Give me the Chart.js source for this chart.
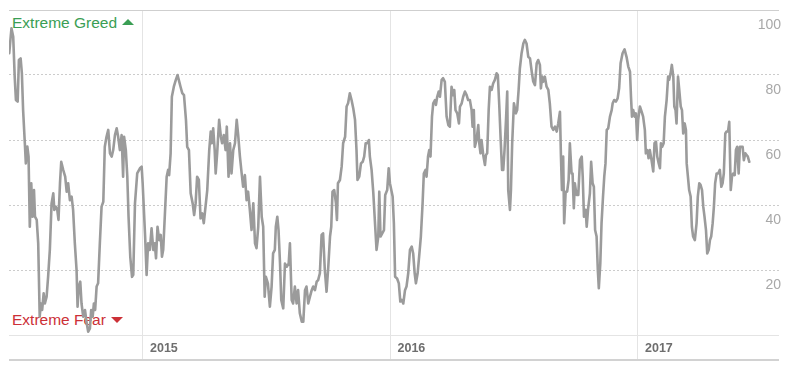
<!DOCTYPE html>
<html>
<head>
<meta charset="utf-8">
<title>Fear &amp; Greed</title>
<script src="https://cdn.jsdelivr.net/npm/chart.js@4.4.1/dist/chart.umd.min.js"></script>
<style>
  body { margin: 0; background: #fff; }
  #wrap { position: relative; width: 793px; height: 373px; }
  #wrap canvas { position: absolute; left: 0; top: 0; z-index: 1; }
  .zone { position: absolute; left: 12px; font-family: "Liberation Sans", Arial, sans-serif; font-size: 15.5px; line-height: 18px; white-space: nowrap; }
  .greed { top: 14px; color: #3a9e54; }
  .fear { top: 311px; color: #cc3037; }
  .tri { display: inline-block; width: 0; height: 0; margin-left: 5px; vertical-align: middle; border-left: 6px solid transparent; border-right: 6px solid transparent; }
  .greed .tri { border-bottom: 6px solid #3a9e54; margin-top: -3px; }
  .fear .tri { border-top: 6px solid #cc3037; margin-top: -2px; }
</style>
</head>
<body>
<div id="wrap">
  <div class="zone greed">Extreme Greed<span class="tri"></span></div>
  <div class="zone fear">Extreme Fear<span class="tri"></span></div>
  <canvas id="chart" width="793" height="373"></canvas>
</div>
<script>
// fractional years
const dates = [
  2014.460, 2014.469, 2014.476, 2014.482, 2014.487, 2014.494, 2014.499, 2014.506, 2014.511, 2014.516,
  2014.523, 2014.527, 2014.533, 2014.538, 2014.543, 2014.549, 2014.554, 2014.560, 2014.564, 2014.571,
  2014.577, 2014.583, 2014.588, 2014.593, 2014.599, 2014.604, 2014.611, 2014.617, 2014.624, 2014.631,
  2014.638, 2014.642, 2014.648, 2014.654, 2014.659, 2014.665, 2014.670, 2014.678, 2014.686, 2014.692,
  2014.698, 2014.705, 2014.712, 2014.718, 2014.725, 2014.732, 2014.736, 2014.741, 2014.747, 2014.752,
  2014.759, 2014.766, 2014.773, 2014.779, 2014.786, 2014.791, 2014.797, 2014.802, 2014.807, 2014.813,
  2014.819, 2014.826, 2014.833, 2014.840, 2014.846, 2014.853, 2014.860, 2014.867, 2014.874, 2014.880,
  2014.887, 2014.894, 2014.900, 2014.907, 2014.914, 2014.920, 2014.924, 2014.931, 2014.937, 2014.942,
  2014.949, 2014.956, 2014.961, 2014.968, 2014.977, 2014.988, 2014.995, 2014.999,
  2015.004, 2015.009, 2015.015, 2015.021, 2015.028, 2015.035, 2015.042, 2015.048, 2015.053, 2015.059,
  2015.066, 2015.072, 2015.077, 2015.082, 2015.089, 2015.096, 2015.102, 2015.106, 2015.112, 2015.117,
  2015.125, 2015.133, 2015.140, 2015.147, 2015.152, 2015.159, 2015.166, 2015.174, 2015.179, 2015.186,
  2015.193, 2015.201, 2015.207, 2015.213, 2015.219, 2015.226, 2015.233, 2015.240, 2015.246, 2015.253,
  2015.260, 2015.268, 2015.274, 2015.279, 2015.284, 2015.290, 2015.294, 2015.300, 2015.308, 2015.315,
  2015.320, 2015.327, 2015.334, 2015.339, 2015.346, 2015.352, 2015.358, 2015.365, 2015.372, 2015.379,
  2015.385, 2015.392, 2015.399, 2015.405, 2015.412, 2015.419, 2015.425, 2015.432, 2015.439, 2015.446,
  2015.453, 2015.459, 2015.466, 2015.473, 2015.480, 2015.486, 2015.492, 2015.497, 2015.505, 2015.513,
  2015.520, 2015.526, 2015.533, 2015.537, 2015.543, 2015.548, 2015.554, 2015.559, 2015.567, 2015.574,
  2015.581, 2015.589, 2015.594, 2015.601, 2015.607, 2015.614, 2015.621, 2015.627, 2015.634, 2015.642,
  2015.648, 2015.655, 2015.661, 2015.668, 2015.675, 2015.682, 2015.688, 2015.695, 2015.702, 2015.708,
  2015.715, 2015.722, 2015.728, 2015.735, 2015.742, 2015.749, 2015.756, 2015.761, 2015.766, 2015.773,
  2015.780, 2015.784, 2015.788, 2015.796, 2015.803, 2015.809, 2015.817, 2015.823, 2015.829, 2015.836,
  2015.843, 2015.850, 2015.857, 2015.863, 2015.867, 2015.874, 2015.881, 2015.888, 2015.894, 2015.900,
  2015.906, 2015.913, 2015.917, 2015.924, 2015.931, 2015.937, 2015.944, 2015.951, 2015.955, 2015.960,
  2015.967, 2015.974, 2015.979, 2015.987, 2015.993, 2015.998,
  2016.009, 2016.014, 2016.019, 2016.027, 2016.034, 2016.040, 2016.046, 2016.052, 2016.059, 2016.065,
  2016.072, 2016.079, 2016.086, 2016.092, 2016.098, 2016.103, 2016.110, 2016.116, 2016.123, 2016.130,
  2016.135, 2016.142, 2016.146, 2016.152, 2016.157, 2016.162, 2016.168, 2016.173, 2016.180, 2016.184,
  2016.189, 2016.195, 2016.200, 2016.207, 2016.213, 2016.220, 2016.227, 2016.234, 2016.240, 2016.247,
  2016.254, 2016.258, 2016.263, 2016.270, 2016.277, 2016.281, 2016.288, 2016.294, 2016.301, 2016.308,
  2016.314, 2016.321, 2016.328, 2016.332, 2016.337, 2016.341, 2016.348, 2016.355, 2016.359, 2016.364,
  2016.368, 2016.375, 2016.382, 2016.386, 2016.391, 2016.397, 2016.402, 2016.409, 2016.415, 2016.422,
  2016.429, 2016.434, 2016.440, 2016.445, 2016.451, 2016.456, 2016.461, 2016.467, 2016.472, 2016.476,
  2016.483, 2016.487, 2016.492, 2016.499, 2016.507, 2016.512, 2016.518, 2016.523, 2016.530, 2016.537,
  2016.543, 2016.550, 2016.557, 2016.564, 2016.571, 2016.577, 2016.584, 2016.591, 2016.597, 2016.604,
  2016.608, 2016.613, 2016.617, 2016.624, 2016.631, 2016.638, 2016.644, 2016.651, 2016.658, 2016.665,
  2016.672, 2016.678, 2016.685, 2016.689, 2016.693, 2016.698, 2016.702, 2016.708, 2016.714, 2016.720,
  2016.725, 2016.732, 2016.736, 2016.741, 2016.745, 2016.752, 2016.759, 2016.766, 2016.773, 2016.777,
  2016.782, 2016.789, 2016.793, 2016.799, 2016.806, 2016.811, 2016.817, 2016.822, 2016.827, 2016.833,
  2016.838, 2016.842, 2016.848, 2016.853, 2016.859, 2016.864, 2016.869, 2016.874, 2016.880, 2016.887,
  2016.894, 2016.898, 2016.904, 2016.911, 2016.918, 2016.924, 2016.930, 2016.938, 2016.946, 2016.954,
  2016.961, 2016.968, 2016.972, 2016.976, 2016.981, 2016.987, 2016.992, 2016.997,
  2017.001, 2017.008, 2017.015, 2017.021, 2017.028, 2017.032, 2017.038, 2017.043, 2017.048, 2017.055,
  2017.062, 2017.067, 2017.073, 2017.078, 2017.084, 2017.089, 2017.093, 2017.098, 2017.104, 2017.109,
  2017.116, 2017.122, 2017.126, 2017.132, 2017.137, 2017.143, 2017.147, 2017.152, 2017.156, 2017.162,
  2017.167, 2017.173, 2017.178, 2017.183, 2017.189, 2017.194, 2017.197, 2017.202, 2017.207, 2017.213,
  2017.218, 2017.223, 2017.230, 2017.237, 2017.242, 2017.248, 2017.253, 2017.259, 2017.264, 2017.269,
  2017.275, 2017.280, 2017.286, 2017.291, 2017.296, 2017.302, 2017.307, 2017.312, 2017.318, 2017.324,
  2017.331, 2017.337, 2017.342, 2017.347, 2017.353, 2017.358, 2017.364, 2017.369, 2017.375, 2017.380,
  2017.385, 2017.391, 2017.396, 2017.401, 2017.407, 2017.412, 2017.417, 2017.423, 2017.428, 2017.434,
  2017.439, 2017.444, 2017.450
];

// fear & greed index (0 - 100)
const values = [
  86.7, 94.4, 91.8, 79.5, 72.3, 71.8, 84.6, 85.1, 80.5, 69.2,
  59, 52.8, 58, 54.9, 33.3, 46.7, 36.4, 44.6, 36.4, 35.4,
  28.2, 5.6, 9.7, 7.7, 12.8, 9.7, 11.8, 17.9, 26.2, 40.5,
  43.6, 38.5, 39.5, 38.5, 35.4, 46.7, 53.3, 50.8, 48.7, 44.1,
  46.7, 41.5, 42.6, 38.5, 28.2, 20, 8.7, 14.9, 16.4, 9.7,
  5.6, 7.7, 3.6, 1, 2, 7.7, 5.6, 9.7, 7.7, 14.9,
  15.9, 28.2, 39.5, 41, 57.9, 61, 63.1, 55.9, 54.9, 56.9,
  61.5, 63.6, 61, 56.9, 61.5, 48.7, 61, 56.9, 48.7, 36.4,
  24, 17.9, 18.5, 40.5, 49.7, 51.3, 51.8, 46.7,
  38.5, 30.3, 18.5, 28.2, 26.2, 32.8, 26.2, 28.2, 23.6, 33.3,
  29.2, 30.8, 24.1, 26.2, 37.4, 48.7, 50.8, 49.2, 55.9, 73.3,
  76.4, 78.5, 80, 77.9, 76.4, 74.4, 73.8, 66.2, 57.9, 56.9,
  43.6, 40.5, 36.9, 40.5, 48.7, 47.7, 35.9, 37.4, 34.4, 39.5,
  44.6, 56.9, 62.6, 59, 63.6, 56.9, 49.7, 55.9, 66.2, 61,
  59, 61.5, 56.9, 64.1, 48.7, 59, 49.7, 56.9, 59, 66.2,
  61.5, 54.9, 49.7, 45.6, 49.2, 41.5, 44.1, 38.5, 32.3, 40.5,
  28.2, 26.7, 33.3, 48.7, 36.4, 33.3, 11.8, 17.9, 15.9, 8.7,
  14.9, 25.1, 26.2, 33.3, 36.4, 32.3, 22, 10.8, 8.2, 22,
  21, 22, 28.2, 10.8, 9.7, 14.9, 9.7, 13.8, 6.7, 4.1,
  4.1, 13.8, 14.9, 9.7, 11.8, 13.8, 14.9, 13.8, 16.4, 16.9,
  19, 30.8, 31.3, 20, 13.3, 21, 30.3, 33.3, 44.1, 44.6,
  40.5, 35.4, 46.7, 47.7, 51.8, 59, 61, 70.3, 71.3, 74.4,
  72.3, 69.7, 66.2, 56.9, 47.7, 48.7, 52.8, 53.3, 54.9, 59,
  59, 60, 54.9, 50.8, 43.6, 35.4, 26.2, 30.3, 44.1, 30.3,
  31.3, 32.3, 43.1, 44.6, 51.3, 46.7,
  42.6, 34.4, 17.9, 17.4, 15.9, 10.3, 10.8, 9.7, 13.8, 14.9,
  19, 26.2, 27.2, 25.1, 19, 15.9, 19, 24.1, 30.3, 40.5,
  49.7, 50.8, 48.7, 54.9, 56.9, 54.9, 67.2, 71.3, 72.3, 70.8,
  73.3, 74.9, 73.3, 78.5, 79, 77.9, 67.2, 64.6, 64.1, 76.4,
  73.8, 75.4, 69.2, 68.2, 65.1, 70.3, 71.3, 73.3, 74.9, 73.8,
  72.3, 72.3, 69.2, 64.1, 69.2, 57.9, 60, 64.6, 59, 55.9,
  60, 55.4, 52.3, 55.4, 55.9, 69.2, 76.4, 75.4, 77.4, 78.5,
  80.5, 80, 70.3, 61, 50.8, 50.8, 56.9, 66.2, 74.9, 44.6,
  38.5, 44.6, 59, 71.3, 68.2, 69.2, 75.4, 82, 86.7, 89.7,
  90.8, 89.7, 85.6, 85.1, 81, 78, 76.9, 83.6, 84.6, 83.1,
  75.9, 79.5, 77.9, 79.5, 76.4, 75.4, 71.3, 64.1, 63.1, 64.1,
  62.6, 65.1, 68.7, 54.9, 44.6, 54.9, 34.4, 44.1, 44.1, 47.7,
  59, 49.7, 49.7, 39, 46.7, 43.1, 43.1, 53.8, 54.9, 48.7,
  36.4, 38.5, 33.3, 39, 43.6, 53.3, 46.7, 45.6, 32.3, 30.3,
  20, 14.4, 22, 34.4, 42.6, 48.7, 52.8, 63.1, 63.6, 67.2,
  69.2, 71.3, 72.3, 71.8, 72.8, 75.9, 83.6, 86.7, 87.9, 85.6,
  82.6, 81, 73.3, 67.2, 69.2, 67.2, 68.2, 60,
  66.2, 70.3, 68.7, 67.2, 63.1, 55.9, 56.9, 54.4, 56.9, 53.8,
  50.3, 59, 59.5, 54.9, 52.8, 51.3, 59, 57.9, 59, 67.2,
  72.3, 79.5, 78.5, 80.5, 83.1, 79.5, 70.3, 69.2, 65.1, 79.5,
  75.4, 70.3, 69.2, 62, 65.1, 63.1, 52.8, 48.7, 44.6, 42.6,
  33.3, 30.3, 29.2, 34.4, 42.6, 46.7, 46.2, 44.6, 39.5, 36.4,
  32.3, 25.1, 26.2, 29.2, 30.3, 34.4, 39.5, 46.7, 49.7, 49.7,
  50.8, 45.6, 46.7, 49.7, 62, 62.6, 62.6, 65.6, 44.6, 48.7,
  49.7, 49.2, 56.9, 57.9, 49.7, 57.9, 57.9, 57.9, 53.8, 55.9,
  55.4, 54.9, 53.3
];

const yearTicks = [2015, 2016, 2017];
const levelTicks = [0, 20, 40, 60, 80, 100];
const xMin = 2014.459;
const xMax = 2017.570;

const FONT = '"Liberation Sans", Arial, sans-serif';

// thick grey rule under the year labels
const baseRule = {
  id: 'baseRule',
  afterDraw(chart) {
    const { ctx, chartArea } = chart;
    ctx.save();
    ctx.strokeStyle = '#d2d2d2';
    ctx.lineWidth = 2;
    ctx.beginPath();
    ctx.moveTo(chartArea.left, chartArea.bottom + 25);
    ctx.lineTo(chartArea.right, chartArea.bottom + 25);
    ctx.stroke();
    ctx.restore();
  }
};

const ctx = document.getElementById('chart').getContext('2d');
const chart = new Chart(ctx, {
  type: 'line',
  data: {
    datasets: [{
      data: dates.map((d, i) => ({ x: d, y: values[i] })),
      borderColor: '#9b9b9b',
      borderWidth: 2.6,
      borderJoinStyle: 'round',
      borderCapStyle: 'round',
      pointRadius: 0,
      tension: 0,
      fill: false
    }]
  },
  options: {
    responsive: false,
    animation: false,
    layout: { padding: { left: 9, right: 14, top: 10, bottom: 12 } },
    plugins: { legend: { display: false }, tooltip: { enabled: false } },
    scales: {
      x: {
        type: 'linear',
        min: xMin,
        max: xMax,
        afterBuildTicks: s => { s.ticks = yearTicks.map(v => ({ value: v })); },
        afterFit: s => { s.height = 26; s.paddingLeft = 0; s.paddingRight = 0; },
        grid: { color: '#e4e4e4', lineWidth: 1, drawTicks: true, tickLength: 26, tickColor: '#e4e4e4' },
        border: { display: false },
        ticks: {
          callback: v => String(v),
          labelOffset: 21,
          padding: -20,
          maxRotation: 0,
          autoSkip: false,
          color: '#6e6e6e',
          font: { family: FONT, size: 12.5, weight: 'bold' }
        }
      },
      y: {
        position: 'right',
        min: 0,
        max: 100,
        afterBuildTicks: s => { s.ticks = levelTicks.map(v => ({ value: v })); },
        afterFit: s => { s.width = 0; s.paddingTop = 0; s.paddingBottom = 0; },
        grid: {
          drawTicks: false,
          color: c => {
            const v = c.tick ? c.tick.value : -1;
            if (v === 100) return '#cfcfcf';
            if (v === 0) return '#e4e4e4';
            return '#cccccc';
          }
        },
        border: {
          display: false,
          dash: c => (c.tick && (c.tick.value === 0 || c.tick.value === 100)) ? [] : [2, 2]
        },
        ticks: {
          mirror: true,
          padding: 2,
          labelOffset: 15,
          color: '#a8a8a8',
          font: { family: FONT, size: 14 },
          callback: v => v === 0 ? '' : v
        }
      }
    }
  },
  plugins: [baseRule]
});
</script>
</body>
</html>
